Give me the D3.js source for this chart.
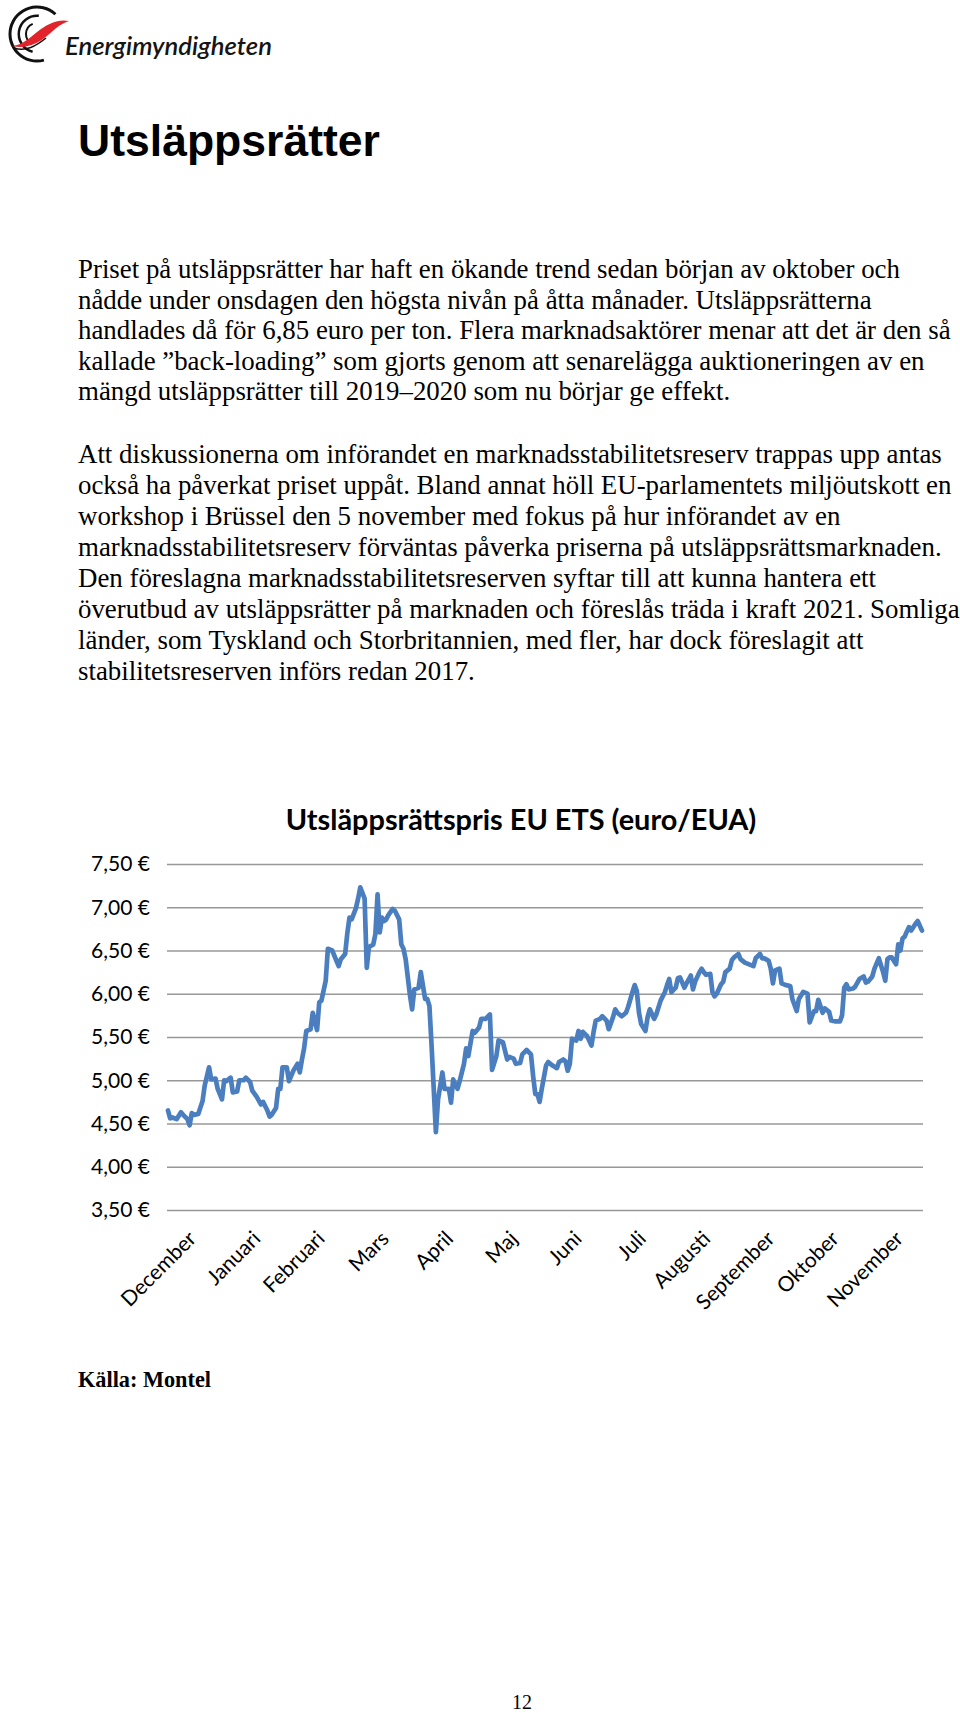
<!DOCTYPE html>
<html><head><meta charset="utf-8">
<script src="https://cdn.jsdelivr.net/npm/d3@7/dist/d3.min.js"></script>
<style>
html,body{margin:0;padding:0;background:#fff;}
svg{display:block;}
</style>
</head><body>
<svg id="page" width="960" height="1713"></svg>
<script>
// ---------- DATA ----------
const months = ["December","Januari","Februari","Mars","April","Maj","Juni","Juli","Augusti","September","Oktober","November"];
const yTicks = [3.5,4.0,4.5,5.0,5.5,6.0,6.5,7.0,7.5];
// day offset from start of series (approx. 1 Dec)
const days = [0,1,2,4,6,7,9,10,11,12,14,16,17,19,20,22,23,25,26,27,29,30,32,33,35,36,38,39,41,43,44,46,47,48,50,51,52,53,55,56,58,60,61,62,63,64,66,67,69,70,71,73,74,76,79,80,82,83,84,85,87,88,89,91,92,93,95,96,97,98,99,100,101,102,104,105,107,108,109,110,112,113,114,116,117,119,120,121,122,124,125,
127,128,130,131,132,134,135,137,138,139,141,142,144,145,147,149,150,152,153,155,157,158,160,161,163,164,166,168,169,170,171,172,173,175,176,178,180,181,183,184,185,186,187,189,190,191,192,194,196,197,198,200,201,203,204,206,207,208,210,212,213,215,216,217,218,219,221,222,223,225,226,228,230,231,232,233,235,236,237,239,240,242,243,244,246,247,248,249,251,252,253,254,256,257,258,260,261,262,264,265,267,269,271,272,274,275,276,278,279,280,281,283,284,286,288,289,291,292,294,296,297,299,300,301,303,304,306,307,309,311,312,313,314,315,317,318,320,322,323,324,326,327,329,331,332,333,334,335,337,338,339,340,341,342,343,344,346,347,349];
const prices = [4.65,4.56,4.57,4.55,4.63,4.60,4.55,4.48,4.62,4.60,4.61,4.76,4.94,5.15,5.01,5.02,4.90,4.78,5.00,4.99,5.03,4.86,4.87,5.00,5.00,5.03,4.98,4.88,4.81,4.72,4.75,4.65,4.58,4.60,4.68,4.90,4.90,5.15,5.15,4.99,5.11,5.19,5.09,5.24,5.37,5.57,5.59,5.78,5.58,5.90,5.92,6.15,6.52,6.50,6.32,6.40,6.46,6.70,6.88,6.86,6.99,7.10,7.23,7.10,6.30,6.54,6.57,6.69,7.15,6.71,6.88,6.84,6.86,6.91,6.98,6.96,6.86,6.57,6.52,6.40,5.98,5.82,6.05,6.07,6.25,5.94,5.94,5.86,5.40,4.40,4.78,
5.09,4.90,4.90,4.74,5.01,4.90,4.99,5.19,5.37,5.28,5.57,5.55,5.61,5.71,5.71,5.76,5.12,5.28,5.46,5.44,5.24,5.27,5.25,5.19,5.20,5.30,5.35,5.30,5.05,4.84,4.84,4.75,4.90,5.17,5.21,5.17,5.14,5.21,5.24,5.22,5.11,5.19,5.48,5.46,5.57,5.48,5.56,5.51,5.40,5.56,5.69,5.71,5.74,5.69,5.59,5.73,5.82,5.78,5.74,5.78,5.85,6.02,6.10,6.03,5.78,5.65,5.57,5.73,5.82,5.71,5.76,5.92,6.02,6.10,6.17,6.02,6.07,6.18,6.19,6.07,6.12,6.21,6.05,6.14,6.25,6.29,6.25,6.22,6.23,6.02,5.97,6.00,6.11,6.14,6.25,6.29,6.39,6.42,6.46,6.40,6.36,6.34,6.32,6.41,6.46,6.41,6.41,6.38,6.29,6.12,6.27,6.29,6.12,6.10,6.09,5.94,5.80,5.94,6.02,6.00,5.67,5.80,5.80,5.93,5.78,5.83,5.79,5.69,5.68,5.68,5.75,6.07,6.11,6.05,6.06,6.08,6.17,6.20,6.13,6.14,6.20,6.29,6.41,6.25,6.15,6.40,6.42,6.42,6.34,6.57,6.50,6.64,6.66,6.72,6.77,6.73,6.81,6.84,6.73];

const pageTitle = "Utsläppsrätter";
const para1 = [
 "Priset på utsläppsrätter har haft en ökande trend sedan början av oktober och",
 "nådde under onsdagen den högsta nivån på åtta månader. Utsläppsrätterna",
 "handlades då för 6,85 euro per ton. Flera marknadsaktörer menar att det är den så",
 "kallade ”back-loading” som gjorts genom att senarelägga auktioneringen av en",
 "mängd utsläppsrätter till 2019–2020 som nu börjar ge effekt."
];
const para2 = [
 "Att diskussionerna om införandet en marknadsstabilitetsreserv trappas upp antas",
 "också ha påverkat priset uppåt. Bland annat höll EU-parlamentets miljöutskott en",
 "workshop i Brüssel den 5 november med fokus på hur införandet av en",
 "marknadsstabilitetsreserv förväntas påverka priserna på utsläppsrättsmarknaden.",
 "Den föreslagna marknadsstabilitetsreserven syftar till att kunna hantera ett",
 "överutbud av utsläppsrätter på marknaden och föreslås träda i kraft 2021. Somliga",
 "länder, som Tyskland och Storbritannien, med fler, har dock föreslagit att",
 "stabilitetsreserven införs redan 2017."
];
const chartTitle = "Utsläppsrättspris EU ETS (euro/EUA)";
const source = "Källa: Montel";
const pageNo = "12";

// ---------- RENDER ----------
const svg = d3.select("#page");

function fit(sel, target){
  const w = sel.node().getComputedTextLength();
  const fs = parseFloat(sel.attr("font-size"));
  const nf = fs*target/w;
  sel.attr("font-size", nf);
  return nf;
}

// Logo
const logo = svg.append("g");
logo.append("path").attr("d", d3.arc()({innerRadius:25.5,outerRadius:28.5,startAngle:0.75,endAngle:-3.4}))
  .attr("transform","translate(37,34)").attr("fill","#111");
logo.append("path").attr("d", d3.arc()({innerRadius:17,outerRadius:19.5,startAngle:0.1,endAngle:-2.9}))
  .attr("transform","translate(37,34)").attr("fill","#111");
logo.append("path").attr("d", d3.arc()({innerRadius:10,outerRadius:12,startAngle:-0.4,endAngle:-2.7}))
  .attr("transform","translate(37,34)").attr("fill","#111");
logo.append("path")
  .attr("d","M12,46 C24,45 31,36 41,29 C50,23 58,19 69,21 C60,24 55,29 47,36 C37,44 27,49 12,46 Z")
  .attr("fill","#e3232b");
logo.append("path").attr("d","M14,48 C26,52 36,46 46,38").attr("fill","none").attr("stroke","#111").attr("stroke-width",1.6);
const logoText = logo.append("text").attr("x",65).attr("y",55)
  .attr("font-family","Lato, 'Open Sans', sans-serif").attr("font-style","italic").attr("font-weight",600)
  .attr("font-size",22).attr("fill","#151515").text("Energimyndigheten");
fit(logoText, 207);

// Page title
const t = svg.append("text").attr("x",78).attr("y",156)
  .attr("font-family","'Liberation Sans', Arial, sans-serif").attr("font-weight","bold")
  .attr("font-size",45).attr("fill","#000").text(pageTitle);
fit(t, 302);

// Body paragraphs
const bodyFont = "'Liberation Serif', 'Times New Roman', serif";
const probe = svg.append("text").attr("x",78).attr("y",278).attr("font-family",bodyFont).attr("font-size",22).text(para1[0]);
const bodySize = fit(probe, 822);
probe.remove();
const lineH = 31;
svg.append("g").selectAll("text").data(para1).join("text")
  .attr("x",78).attr("y",(d,i)=>278 + i*30.6)
  .attr("font-family",bodyFont).attr("font-size",bodySize).attr("fill","#000").text(d=>d);
svg.append("g").selectAll("text").data(para2).join("text")
  .attr("x",78).attr("y",(d,i)=>463 + i*lineH)
  .attr("font-family",bodyFont).attr("font-size",bodySize).attr("fill","#000").text(d=>d);

// ---------- CHART ----------
const chartFont = "Lato, Carlito, Calibri, sans-serif";
const plot = {left:167, right:923, top:864, bottom:1210};
const y = d3.scaleLinear().domain([3.5,7.5]).range([plot.bottom, plot.top]);
const x = d3.scaleLinear().domain([0,349]).range([168,922]);
const xm = d3.scalePoint().domain(months).range([197,904]);

const locale = d3.formatLocale({decimal:",", thousands:"\u00a0", grouping:[3], currency:["","\u00a0€"]});
const fmt = locale.format("$.2f");

// chart title
const ct = svg.append("text").attr("x",521).attr("y",830).attr("text-anchor","middle")
  .attr("font-family",chartFont).attr("font-weight","bold").attr("font-size",28).attr("fill","#000").text(chartTitle);
fit(ct, 471);

// gridlines
const grid = svg.append("g").attr("transform",`translate(${plot.left},0)`)
  .call(d3.axisRight(y).tickValues(yTicks).tickSize(plot.right-plot.left).tickFormat(""));
grid.select(".domain").remove();
grid.selectAll(".tick line").attr("stroke","#989898").attr("stroke-width",1.5);

// y labels
const yAx = svg.append("g").attr("transform",`translate(${plot.left},0)`)
  .call(d3.axisLeft(y).tickValues(yTicks).tickSize(0).tickPadding(17).tickFormat(fmt));
yAx.select(".domain").remove();
yAx.selectAll("text").attr("font-family",chartFont).attr("font-size",20).attr("fill","#000");
const yl = yAx.select(".tick:last-of-type text");
const labSize = fit(yl, 59);
yAx.selectAll("text").attr("font-size",labSize);

// x labels
const xAx = svg.append("g").attr("transform","translate(0,1240)")
  .call(d3.axisBottom(xm).tickSize(0));
xAx.select(".domain").remove();
xAx.selectAll("text").attr("y",0).attr("x",0).attr("dy","0").attr("text-anchor","end")
  .attr("transform","rotate(-45)").attr("font-family",chartFont).attr("font-size",labSize).attr("fill","#000");

// line
const line = d3.line().x((d,i)=>x(days[i])).y(d=>y(d)).curve(d3.curveLinear);
svg.append("path").datum(prices).attr("d",line)
  .attr("fill","none").attr("stroke","#4a7ebf").attr("stroke-width",4.7)
  .attr("stroke-linejoin","round").attr("stroke-linecap","round");

// source and page number
const src = svg.append("text").attr("x",78).attr("y",1387)
  .attr("font-family",bodyFont).attr("font-weight","bold").attr("font-size",22).attr("fill","#000").text(source);
fit(src, 133);
svg.append("text").attr("x",522).attr("y",1709).attr("text-anchor","middle")
  .attr("font-family",bodyFont).attr("font-size",20).attr("fill","#000").text(pageNo);
</script>
</body></html>
